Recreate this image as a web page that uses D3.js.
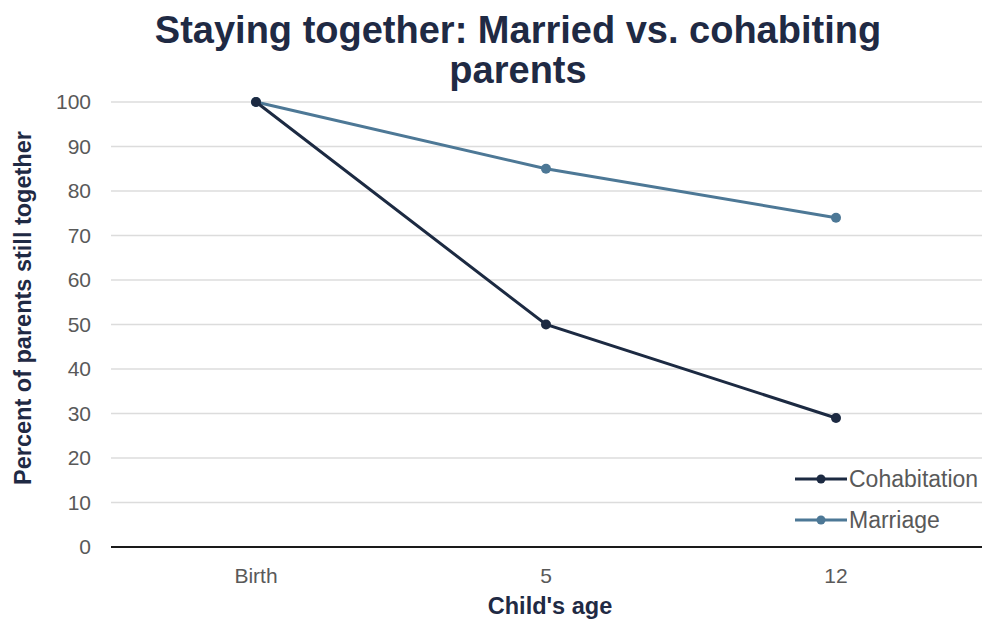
<!DOCTYPE html>
<html>
<head>
<meta charset="utf-8">
<script src="https://cdn.jsdelivr.net/npm/d3@7"></script>
<style>
	body { margin: 0; background: #fff; }
	.axis-label { font-family: "Liberation Sans", Arial, sans-serif; font-size: 21px; fill: #595959; }
	.axis-title { font-family: "Liberation Sans", Arial, sans-serif; font-size: 23.5px; font-weight: bold; fill: #1f2a44; }
	.chart-title { font-family: "Liberation Sans", Arial, sans-serif; font-size: 38px; font-weight: bold; fill: #1f2a44; }
	.legend-text { font-family: "Liberation Sans", Arial, sans-serif; font-size: 23px; fill: #595959; }
</style>
</head>
<body>
<div id="chart"></div>
<script>

//////////////////////// Data ////////////////////////
var ages = ["Birth", "5", "12"];
var cohabitation = [100, 50, 29];
var marriage = [100, 85, 74];
var yTicks = [0, 10, 20, 30, 40, 50, 60, 70, 80, 90, 100];
var seriesNames = ["Cohabitation", "Marriage"];

var width = 982,
	height = 622,
	margin = {top: 102, right: 1, bottom: 75, left: 111};

var colors = {"Cohabitation": "#1c2a42", "Marriage": "#4d7896"};

var svg = d3.select("#chart").append("svg")
	.attr("width", width)
	.attr("height", height);

var x = d3.scaleBand()
	.domain(ages)
	.range([margin.left, width - margin.right]);

var y = d3.scaleLinear()
	.domain([0, 100])
	.range([height - margin.bottom, margin.top]);

//Gridlines
svg.append("g")
	.selectAll("line")
	.data(yTicks.filter(function(d) { return d > 0; }))
	.enter().append("line")
	.attr("x1", margin.left)
	.attr("x2", width)
	.attr("y1", function(d) { return y(d); })
	.attr("y2", function(d) { return y(d); })
	.style("stroke", "#dcdcdc")
	.style("stroke-width", 1.5);

//Baseline
svg.append("line")
	.attr("x1", margin.left)
	.attr("x2", width)
	.attr("y1", y(0))
	.attr("y2", y(0))
	.style("stroke", "#1a1a1a")
	.style("stroke-width", 2);

//Y tick labels
svg.append("g")
	.selectAll("text")
	.data(yTicks)
	.enter().append("text")
	.attr("class", "axis-label")
	.attr("x", 91)
	.attr("y", function(d) { return y(d); })
	.attr("dy", "0.35em")
	.style("text-anchor", "end")
	.text(function(d) { return d; });

//X tick labels
svg.append("g")
	.selectAll("text")
	.data(ages)
	.enter().append("text")
	.attr("class", "axis-label")
	.attr("x", function(d) { return x(d) + x.bandwidth()/2; })
	.attr("y", 576)
	.attr("dy", "0.35em")
	.style("text-anchor", "middle")
	.text(function(d) { return d; });

//Axis titles
svg.append("text")
	.attr("class", "axis-title")
	.attr("transform", "translate(31," + 308 + ") rotate(-90)")
	.style("text-anchor", "middle")
	.text("Percent of parents still together");

svg.append("text")
	.attr("class", "axis-title")
	.attr("x", 550)
	.attr("y", 614)
	.style("text-anchor", "middle")
	.text("Child's age");

//Title
svg.append("text")
	.attr("class", "chart-title")
	.attr("x", 518)
	.attr("y", 43)
	.style("text-anchor", "middle")
	.text("Staying together: Married vs. cohabiting");
svg.append("text")
	.attr("class", "chart-title")
	.attr("x", 518)
	.attr("y", 83)
	.style("text-anchor", "middle")
	.text("parents");

//Lines
var line = d3.line()
	.x(function(d, i) { return x(ages[i]) + x.bandwidth()/2; })
	.y(function(d) { return y(d); });

var series = [
	{name: "Marriage", values: marriage},
	{name: "Cohabitation", values: cohabitation}
];

series.forEach(function(s) {
	svg.append("path")
		.datum(s.values)
		.attr("d", line)
		.style("fill", "none")
		.style("stroke", colors[s.name])
		.style("stroke-width", 3);
	svg.append("g")
		.selectAll("circle")
		.data(s.values)
		.enter().append("circle")
		.attr("cx", function(d, i) { return x(ages[i]) + x.bandwidth()/2; })
		.attr("cy", function(d) { return y(d); })
		.attr("r", 5)
		.style("fill", colors[s.name]);
});

//Legend
var legend = svg.append("g")
	.selectAll("g")
	.data(seriesNames)
	.enter().append("g")
	.attr("transform", function(d, i) { return "translate(795," + (479 + i*41) + ")"; });

legend.append("line")
	.attr("x1", 0)
	.attr("x2", 52)
	.style("stroke", function(d) { return colors[d]; })
	.style("stroke-width", 3);
legend.append("circle")
	.attr("cx", 26)
	.attr("r", 4.5)
	.style("fill", function(d) { return colors[d]; });
legend.append("text")
	.attr("class", "legend-text")
	.attr("x", 54)
	.attr("dy", "0.35em")
	.text(function(d) { return d; });

</script>
</body>
</html>
